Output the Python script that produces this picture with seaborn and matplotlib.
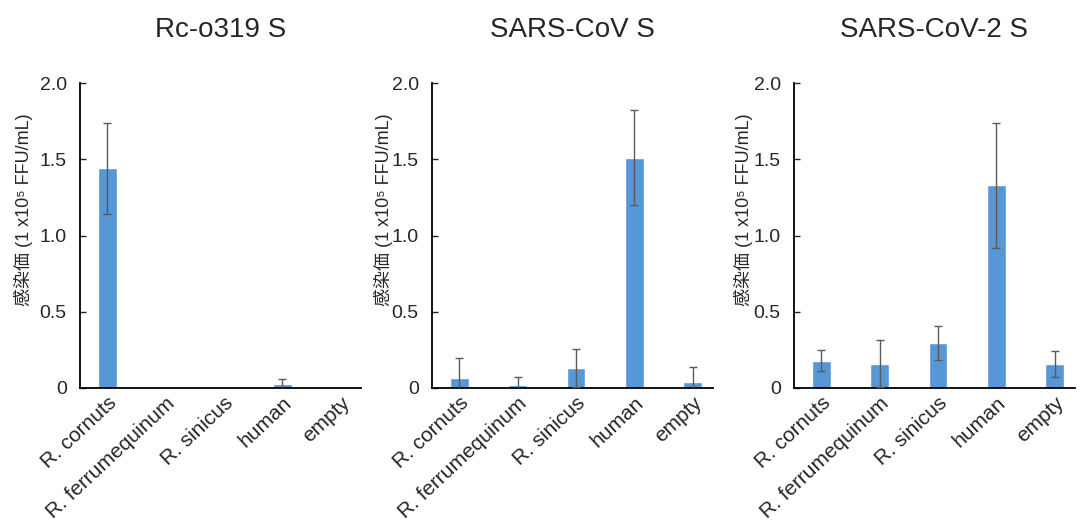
import matplotlib
matplotlib.use("Agg")
import matplotlib.pyplot as plt
import seaborn as sns
import pandas as pd
import numpy as np
from matplotlib.ticker import FuncFormatter

hosts = ["R. cornuts", "R. ferrumequinum", "R. sinicus", "human", "empty"]
titles = ["Rc-o319 S", "SARS-CoV S", "SARS-CoV-2 S"]
rc_mean = [1.44, 0.0, 0.0, 0.025, 0.0]
rc_err = [0.30, 0.0, 0.0, 0.035, 0.0]
sars_mean = [0.065, 0.02, 0.13, 1.51, 0.04]
sars_err = [0.135, 0.05, 0.125, 0.31, 0.10]
sars2_mean = [0.18, 0.16, 0.295, 1.33, 0.16]
sars2_err = [0.07, 0.155, 0.11, 0.41, 0.085]
yticks = [0, 0.5, 1.0, 1.5, 2.0]
ylabel = "感染価 (1 x10⁵ FFU/mL)"

means = [rc_mean, sars_mean, sars2_mean]
errs = [rc_err, sars_err, sars2_err]

sns.set_style("ticks")
plt.rcParams["font.family"] = ["Liberation Sans", "Noto Sans CJK JP", "DejaVu Sans"]

fig = plt.figure(figsize=(10.81, 5.2), dpi=100)
W, H = 1081, 520
lefts = [80, 432, 794]
label_x = [-0.167, -0.139, -0.146]
bar_color = "#5797d6"

for i in range(3):
    ax = fig.add_axes([lefts[i] / W, 132 / H, 281 / W, 305 / H])
    df = pd.DataFrame({"host": hosts, "titer": means[i], "err": errs[i]})
    sns.barplot(data=df, x="host", y="titer", color=bar_color, width=0.32,
                saturation=1, errorbar=None, ax=ax, order=hosts)
    centers = [p.get_x() + p.get_width() / 2 for p in ax.patches]
    for c, m, e in zip(centers, df["titer"], df["err"]):
        if e > 0:
            ax.errorbar(c, m, yerr=e, fmt="none", ecolor="#5a5a5a",
                        elinewidth=1.0, capsize=3, capthick=1.0, zorder=3)
    ax.set_xlim(-0.47, 4.35)
    ax.set_ylim(0, 2.0)
    ax.set_yticks(yticks)
    ax.yaxis.set_major_formatter(FuncFormatter(lambda v, p: "0" if v == 0 else f"{v:.1f}"))
    ax.tick_params(axis="y", direction="in", length=4, width=1, labelsize=14, pad=9.5)
    ax.tick_params(axis="x", length=0, labelsize=15, pad=4)
    for lab in ax.get_xticklabels():
        lab.set_rotation(43)
        lab.set_rotation_mode("anchor")
        lab.set_ha("right")
        lab.set_va("top")
    sns.despine(ax=ax)
    for s in ["left", "bottom"]:
        ax.spines[s].set_linewidth(1.3)
        ax.spines[s].set_color("black")
    ax.set_xlabel("")
    ax.set_ylabel(ylabel, fontsize=13)
    ax.yaxis.set_label_coords(label_x[i], 0.585)
    ax.set_title(titles[i], fontsize=20, pad=33)

fig.savefig("out.png", dpi=100, facecolor="white")
